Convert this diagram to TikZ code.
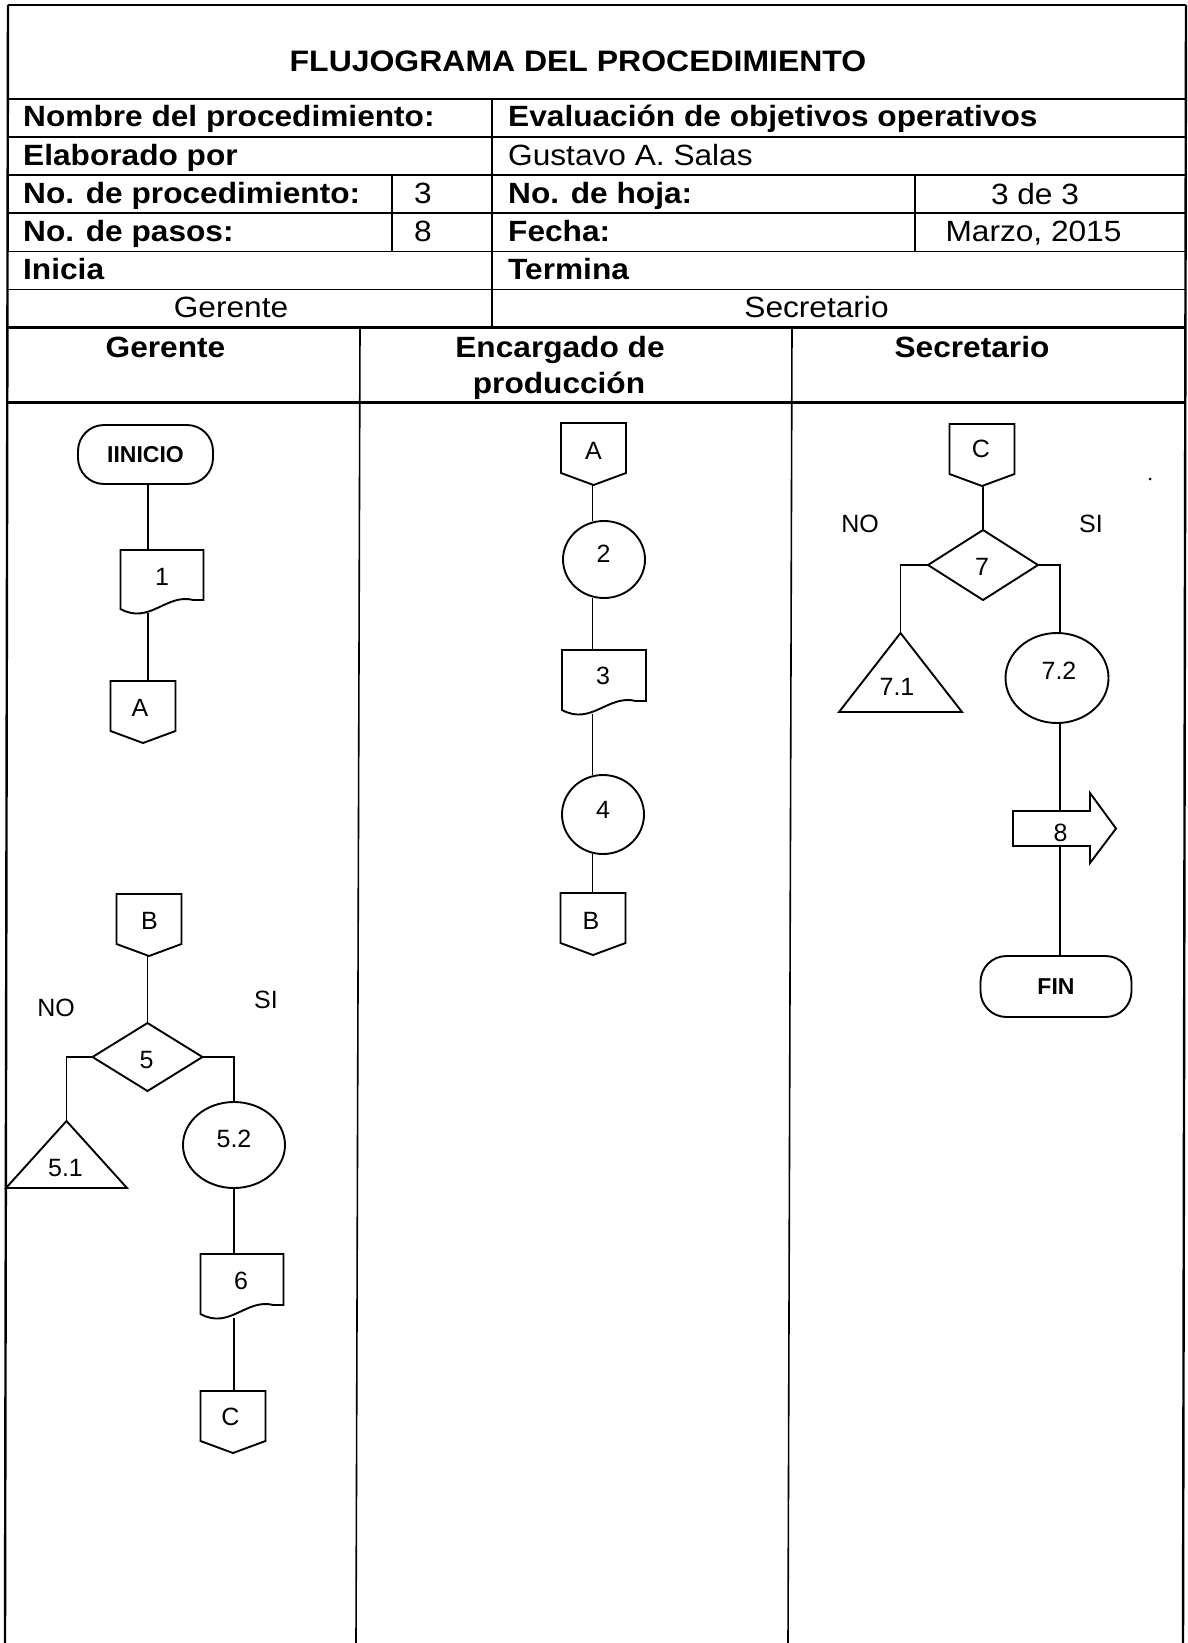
\documentclass[tikz,border=0pt]{standalone}
\usepackage{fontspec}
\setmainfont{Liberation Sans}
\newfontfamily\hdrfont{Liberation Sans}[FakeStretch=1.08]
\usetikzlibrary{shapes.geometric,calc}

\tikzset{
  frameline/.style={line width=2.4pt},
  tline/.style={line width=1.6pt},
  tlineb/.style={line width=2.2pt},
  shp/.style={line width=1.9pt, line join=miter},
  conn/.style={line width=1.9pt},
  hbox/.style={inner sep=0pt, outer sep=0pt, draw=none},
  lbl/.style={inner sep=0pt, font=\fontsize{25}{25}\selectfont},
  term/.style={draw, line width=1.9pt, rectangle, rounded corners=26pt, inner sep=0pt, outer sep=0pt, font=\fontsize{23}{23}\selectfont\bfseries},
  oval/.style={draw, line width=1.9pt, ellipse, inner sep=0pt, outer sep=0pt},
  hdb/.style={inner sep=0pt, anchor=base west, font=\hdrfont\fontsize{29.3}{32}\selectfont\bfseries},
  hdr/.style={inner sep=0pt, anchor=base west, font=\hdrfont\fontsize{29.3}{32}\selectfont},
  hcr/.style={inner sep=0pt, anchor=base, font=\hdrfont\fontsize{29.3}{32}\selectfont},
  hcb/.style={inner sep=0pt, anchor=base, font=\hdrfont\fontsize{29.3}{32}\selectfont\bfseries},
}

\newcommand\DocOutline[1]{\draw[shp] ($(#1.south west)+(0,4)$) -- (#1.north west) -- (#1.north east) -- ($(#1.south east)+(0,13)$) -- ($(#1.south west)!0.88!(#1.south east)+(0,13)$) .. controls ($(#1.south west)!0.55!(#1.south east)+(0,20)$) and ($(#1.south west)!0.35!(#1.south east)+(0,-12)$) .. ($(#1.south west)+(0,4)$) -- cycle;}
\newcommand\OffPage[1]{\draw[shp] (#1.north west) -- (#1.north east) -- ($(#1.south east)+(0,12)$) -- (#1.south) -- ($(#1.south west)+(0,12)$) -- cycle;}
\newcommand\TriOutline[1]{\draw[shp] (#1.north) -- (#1.south east) -- (#1.south west) -- cycle;}
\newcommand\DiaOutline[1]{\draw[shp] (#1.north) -- (#1.east) -- (#1.south) -- (#1.west) -- cycle;}
\newcommand\ArrowOutline[1]{\draw[shp] (#1.south west) -- (#1.north west) -- (#1.north east) -- ($(#1.north east)+(0,18)$) -- ($(#1.east)+(26,0)$) -- ($(#1.south east)+(0,-17)$) -- (#1.south east) -- cycle;}

\begin{document}
\begin{tikzpicture}[x=1pt,y=1pt]
\useasboundingbox (0,0) rectangle (1188,-1643);
\fill[white] (0,0) rectangle (1188,-1643);

% ---------- frame ----------
\draw[frameline] (8,-5) -- (1186,-5);
\draw[frameline] (8,-5) -- (5,-1643);
\draw[frameline] (1186,-5) -- (1183,-1643);

% ---------- table grid ----------
\foreach \yy in {99,137,175,213,251.5,289.5} \draw[tline] (8,-\yy) -- (1186,-\yy);
\draw[tlineb] (8,-327.5) -- (1186,-327.5);
\draw[tlineb] (8,-402.5) -- (1186,-402.5);
\draw[tline] (492,-99) -- (492,-327.5);
\draw[tline] (392,-175) -- (392,-251.5);
\draw[tline] (915,-175) -- (915,-251.5);
\draw[tline] (360,-327.5) -- (356,-1643);
\draw[tline] (792,-327.5) -- (788,-1643);

% ---------- header texts ----------
\node[hcb, font=\hdrfont\fontsize{29.6}{32}\selectfont\bfseries] (title) at (578,-72) {FLUJOGRAMA DEL PROCEDIMIENTO};
\node[hdb] (h1l) at (23,-127) {Nombre del procedimiento:};
\node[hdb] (h1r) at (508,-127) {Evaluación de objetivos operativos};
\node[hdb] (h2l) at (23,-165) {Elaborado por};
\node[hdr] (h2r) at (508,-165) {Gustavo A. Salas};
\node[hdb] (h3l) at (23,-203) {No. de procedimiento:};
\node[hcr] (h3n) at (423,-203.5) {3};
\node[hdb] (h3r) at (508,-203) {No. de hoja:};
\node[hcr] (h3v) at (1035,-204) {3 de 3};
\node[hdb] (h4l) at (23,-241) {No. de pasos:};
\node[hcr] (h4n) at (423,-241.5) {8};
\node[hdb] (h4r) at (508,-241) {Fecha:};
\node[hcr] (h4v) at (1033.5,-241.5) {Marzo, 2015};
\node[hdb] (h5l) at (23,-279.5) {Inicia};
\node[hdb] (h5r) at (508,-279.5) {Termina};
\node[hcr] (h6l) at (231,-317.5) {Gerente};
\node[hcr] (h6r) at (816.5,-317.5) {Secretario};
\node[hcb] (lane1) at (165.5,-357) {Gerente};
\node[hcb] (lane2a) at (560,-357) {Encargado de};
\node[hcb] (lane2b) at (559,-393) {producción};
\node[hcb] (lane3) at (972,-357) {Secretario};

% ---------- connector columns ----------
\coordinate (g1) at (148,0);
\coordinate (g2) at (147.5,0);
\coordinate (g3) at (234,0);
\coordinate (e1) at (592.5,0);
\coordinate (s1) at (983,0);
\coordinate (s2) at (1060,0);

% ---------- Gerente lane ----------
\node[term, minimum width=135pt, minimum height=59pt] (ini) at (145.5,-454.5) {IINICIO};
\node[hbox, minimum width=83pt, minimum height=63pt] (d1) at (162,-581.5) {};
\DocOutline{d1}
\node[lbl] (t1) at (162,-576.5) {1};
\node[hbox, minimum width=65pt, minimum height=62pt] (cA1) at (143,-712) {};
\OffPage{cA1}
\node[lbl] (tA1) at (140,-708) {A};

\node[hbox, minimum width=65pt, minimum height=62pt] (cB1) at (149,-925) {};
\OffPage{cB1}
\node[lbl] (tB1) at (149.5,-921) {B};
\node[hbox, minimum width=110pt, minimum height=68pt] (dm5) at (147.5,-1057) {};
\DiaOutline{dm5}
\node[lbl] (t5) at (146.5,-1060) {5};
\node[lbl] (no5) at (56,-1008) {NO};
\node[lbl] (si5) at (266,-1000) {SI};
\node[hbox, minimum width=121pt, minimum height=67pt] (t51) at (66.5,-1154.5) {};
\TriOutline{t51}
\node[lbl] (l51) at (65.5,-1168) {5.1};
\node[oval, minimum width=102pt, minimum height=86pt] (e52) at (234,-1145) {};
\node[lbl] (l52) at (234,-1138.5) {5.2};
\node[hbox, minimum width=83pt, minimum height=64pt] (d6) at (242,-1286) {};
\DocOutline{d6}
\node[lbl] (t6) at (241,-1281) {6};
\node[hbox, minimum width=65pt, minimum height=62pt] (cC1) at (233,-1422) {};
\OffPage{cC1}
\node[lbl] (tC1) at (230.5,-1417) {C};

% ---------- Encargado lane ----------
\node[hbox, minimum width=65pt, minimum height=62pt] (cA2) at (593.5,-454) {};
\OffPage{cA2}
\node[lbl] (tA2) at (593.5,-451) {A};
\node[oval, minimum width=82pt, minimum height=77pt] (c2) at (604,-559.5) {};
\node[lbl] (t2) at (603.5,-554) {2};
\node[hbox, minimum width=84pt, minimum height=64pt] (d3) at (604,-682) {};
\DocOutline{d3}
\node[lbl] (t3) at (603,-676) {3};
\node[oval, minimum width=82pt, minimum height=79pt] (c4) at (603,-814.5) {};
\node[lbl] (t4) at (603,-810) {4};
\node[hbox, minimum width=65pt, minimum height=62pt] (cB2) at (593,-924) {};
\OffPage{cB2}
\node[lbl] (tB2) at (591,-921) {B};

% ---------- Secretario lane ----------
\node[hbox, minimum width=65pt, minimum height=62pt] (cC2) at (982,-455) {};
\OffPage{cC2}
\node[lbl] (tC2) at (981,-449) {C};
\node[hbox, minimum width=110pt, minimum height=70pt] (dm7) at (983,-565) {};
\DiaOutline{dm7}
\node[lbl] (t7) at (982,-567) {7};
\node[lbl] (no7) at (860,-524) {NO};
\node[lbl] (si7) at (1091,-524) {SI};
\node[hbox, minimum width=123pt, minimum height=79pt] (t71) at (900.5,-672.5) {};
\TriOutline{t71}
\node[lbl] (l71) at (897,-687) {7.1};
\node[oval, minimum width=103pt, minimum height=90pt] (e72) at (1057,-678) {};
\node[lbl] (l72) at (1059,-671) {7.2};
\node[hbox, minimum width=77pt, minimum height=35pt] (a8) at (1051.5,-828.5) {};
\ArrowOutline{a8}
\node[lbl] (t8) at (1060.5,-832.5) {8};
\node[term, minimum width=151pt, minimum height=61pt] (fin) at (1056,-986.5) {FIN};

% stray dot
\fill (1150,-479) circle (1.5);

% ---------- connectors ----------
\draw[conn] (g1 |- ini.south) -- (g1 |- d1.north);
\draw[conn] (g1 |- d1.south) -- (g1 |- cA1.north);
\draw[conn] (g2 |- cB1.south) -- (g2 |- dm5.north);
\draw[conn] (dm5.west) -| (t51.north);
\draw[conn] (dm5.east) -| (e52.north);
\draw[conn] (g3 |- e52.south) -- (g3 |- d6.north);
\draw[conn] (g3 |- d6.south) -- (g3 |- cC1.north);

\draw[conn] (e1 |- cA2.south) -- (e1 |- c2.north);
\draw[conn] (e1 |- c2.south) -- (e1 |- d3.north);
\draw[conn] (e1 |- d3.south) -- (e1 |- c4.north);
\draw[conn] (e1 |- c4.south) -- (e1 |- cB2.north);

\draw[conn] (s1 |- cC2.south) -- (s1 |- dm7.north);
\draw[conn] (dm7.west) -| (t71.north);
\draw[conn] (dm7.east) -| (s2 |- e72.north);
\draw[conn] (s2 |- e72.south) -- (s2 |- a8.north);
\draw[conn] (s2 |- a8.south) -- (s2 |- fin.north);
\end{tikzpicture}
\end{document}
